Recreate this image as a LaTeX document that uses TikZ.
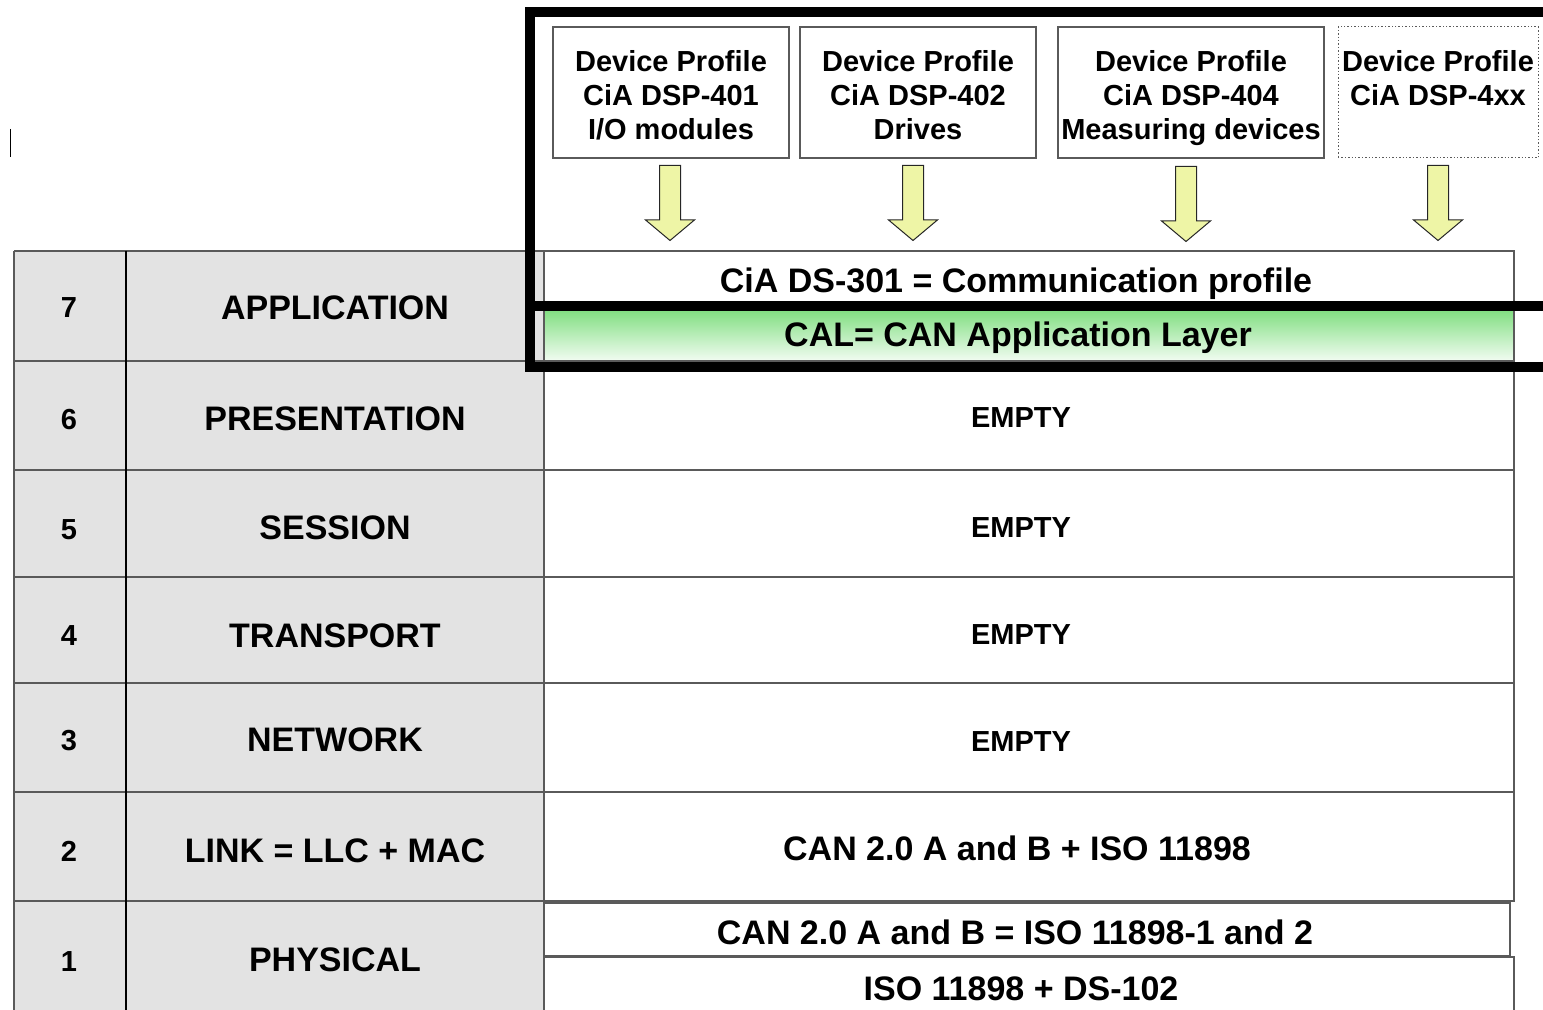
\documentclass[tikz,border=0pt]{standalone}
\usepackage{fontspec}
\setmainfont{Liberation Sans}
\usepackage{xcolor}
\usetikzlibrary{shapes.arrows, positioning}
\definecolor{cellgray}{HTML}{E3E3E3}
\definecolor{rulegray}{HTML}{5A5A5A}
\definecolor{arrowfill}{HTML}{EEF5A6}
\definecolor{calgreen}{HTML}{78DC78}
\definecolor{calpale}{HTML}{F2FCF2}

\begin{document}
\begin{tikzpicture}[x=0.5pt, y=-0.5pt,
	    rule/.style={draw=rulegray, line width=0.7pt},
	    bigtext/.style={font=\bfseries\fontsize{17}{20}\selectfont, inner sep=0pt},
	    smalltext/.style={font=\bfseries\fontsize{14.5}{17}\selectfont, inner sep=0pt},
	    profile/.style={rule, minimum height=65.5pt, inner sep=0pt},
	    boxtext/.style={align=center, inner sep=0pt, font=\bfseries\fontsize{14.5}{17}\selectfont},
	    downarrow/.style={single arrow, draw=black!85, line width=0.5pt, fill=arrowfill,
	      shape border rotate=270, minimum height=37.5pt, inner sep=5pt,
	      single arrow head extend=7pt, single arrow tip angle=100},
	    frame/.style={line width=5pt, black}
	  ]
	  \useasboundingbox (0,0) rectangle (1543,1010);
	  \clip (0,0) rectangle (1543,1010);
	
	  % stray mark on the left
	  \draw[black, line width=0.5pt] (10,129) -- (10,157);
	
	  % grey layer columns
	  \fill[cellgray] (14,251) rectangle (544,1012);
	  \draw[rule] (14,251) -- (544,251);
	  \draw[rule] (14,361) -- (544,361);
	  \draw[rule] (14,470) -- (544,470);
	  \draw[rule] (14,577) -- (544,577);
	  \draw[rule] (14,683) -- (544,683);
	  \draw[rule, line width=1.2pt] (14,792) -- (544,792);
	  \draw[rule] (14,901) -- (544,901);
	  \draw[rule] (14,251) -- (14,1012);
	  \draw[rule] (544,251) -- (544,1012);
	  \draw[black, line width=1.1pt] (126,251) -- (126,1012);
	
	  % layer numbers
	  \node[smalltext, anchor=base] (n7) at (69,318) {7};
	  \node[smalltext, anchor=base] (n6) at (69,430) {6};
	  \node[smalltext, anchor=base] (n5) at (69,539) {5};
	  \node[smalltext, anchor=base] (n4) at (69,646) {4};
	  \node[smalltext, anchor=base] (n3) at (69,750) {3};
	  \node[smalltext, anchor=base] (n2) at (69,861) {2};
	  \node[smalltext, anchor=base] (n1) at (69,971) {1};
	
	  % layer names
	  \node[bigtext, anchor=base] (application)  at (335,320) {APPLICATION};
	  \node[bigtext, anchor=base] (presentation) at (335,431) {PRESENTATION};
	  \node[bigtext, anchor=base] (session)      at (335,540) {SESSION};
	  \node[bigtext, anchor=base] (transport)    at (335,647) {TRANSPORT};
	  \node[bigtext, anchor=base] (network)      at (335,751) {NETWORK};
	  \node[bigtext, anchor=base] (link)         at (335,862) {LINK = LLC + MAC};
	  \node[bigtext, anchor=base] (physical)     at (335,971) {PHYSICAL};
	
	  % CANopen side of the stack
	  \draw[rule, fill=white] (544,251) rectangle (1514,306);
	  \shade[top color=calgreen, bottom color=calpale, draw=rulegray, line width=0.7pt]
	    (544,306) rectangle (1514,361);
	  \draw[rule, fill=white] (544,361) rectangle (1514,470);
	  \draw[rule, fill=white] (544,470) rectangle (1514,577);
	  \draw[rule, fill=white] (544,577) rectangle (1514,683);
	  \draw[rule, fill=white] (544,683) rectangle (1514,792);
	  \draw[rule, fill=white] (544,792) rectangle (1514,901);
	  \draw[rule, fill=white] (544,903) rectangle (1510,956);
	  \draw[rule, fill=white] (544,957) rectangle (1514,1014);
	
	  \node[bigtext, anchor=base] (ds301) at (1016,293) {CiA DS-301 = Communication profile};
	  \node[bigtext, anchor=base] (cal)   at (1018,347) {CAL= CAN Application Layer};
	  \node[smalltext, anchor=base] (empty6) at (1021,428) {EMPTY};
	  \node[smalltext, anchor=base] (empty5) at (1021,538) {EMPTY};
	  \node[smalltext, anchor=base] (empty4) at (1021,645) {EMPTY};
	  \node[smalltext, anchor=base] (empty3) at (1021,751) {EMPTY};
	  \node[bigtext, anchor=base] (can20)  at (1017,860) {CAN 2.0 A and B + ISO 11898};
	  \node[bigtext, anchor=base] (caniso) at (1015,944) {CAN 2.0 A and B = ISO 11898-1 and 2};
	  \node[bigtext, anchor=base] (ds102)  at (1021,1000) {ISO 11898 + DS-102};
	
	  % device profiles
	  \node[profile, minimum width=118pt] (p401) at (671,92.5) {};
	  \node[profile, minimum width=118pt] (p402) at (918,92.5) {};
	  \node[profile, minimum width=133pt] (p404) at (1191,92.5) {};
	  \node[profile, minimum width=100pt, densely dotted, line width=0.5pt] (p4xx) at (1438,92.5) {};
	  \node[boxtext, below=10.5pt of p401.north] (t401) {\strut Device Profile\\CiA DSP-401\\I/O modules};
	  \node[boxtext, below=10.5pt of p402.north] (t402) {\strut Device Profile\\CiA DSP-402\\Drives};
	  \node[boxtext, below=10.5pt of p404.north] (t404) {\strut Device Profile\\CiA DSP-404\\Measuring devices};
	  \node[boxtext, below=10.5pt of p4xx.north] (t4xx) {\strut Device Profile\\CiA DSP-4xx};
	
	  % arrows down onto DS-301
	  \node[downarrow, anchor=tail] (a401) at (670,165) {};
	  \node[downarrow, anchor=tail] (a402) at (913,165) {};
	  \node[downarrow, anchor=tail] (a404) at (1186,166) {};
	  \node[downarrow, anchor=tail] (a4xx) at (1438,165) {};
	
	  % heavy frame round the CANopen part
	  \draw[frame] (1560,12) -- (530,12) -- (530,367) -- (1560,367);
	  \draw[frame] (530,306) -- (1560,306);
	\end{tikzpicture}
\end{document}
